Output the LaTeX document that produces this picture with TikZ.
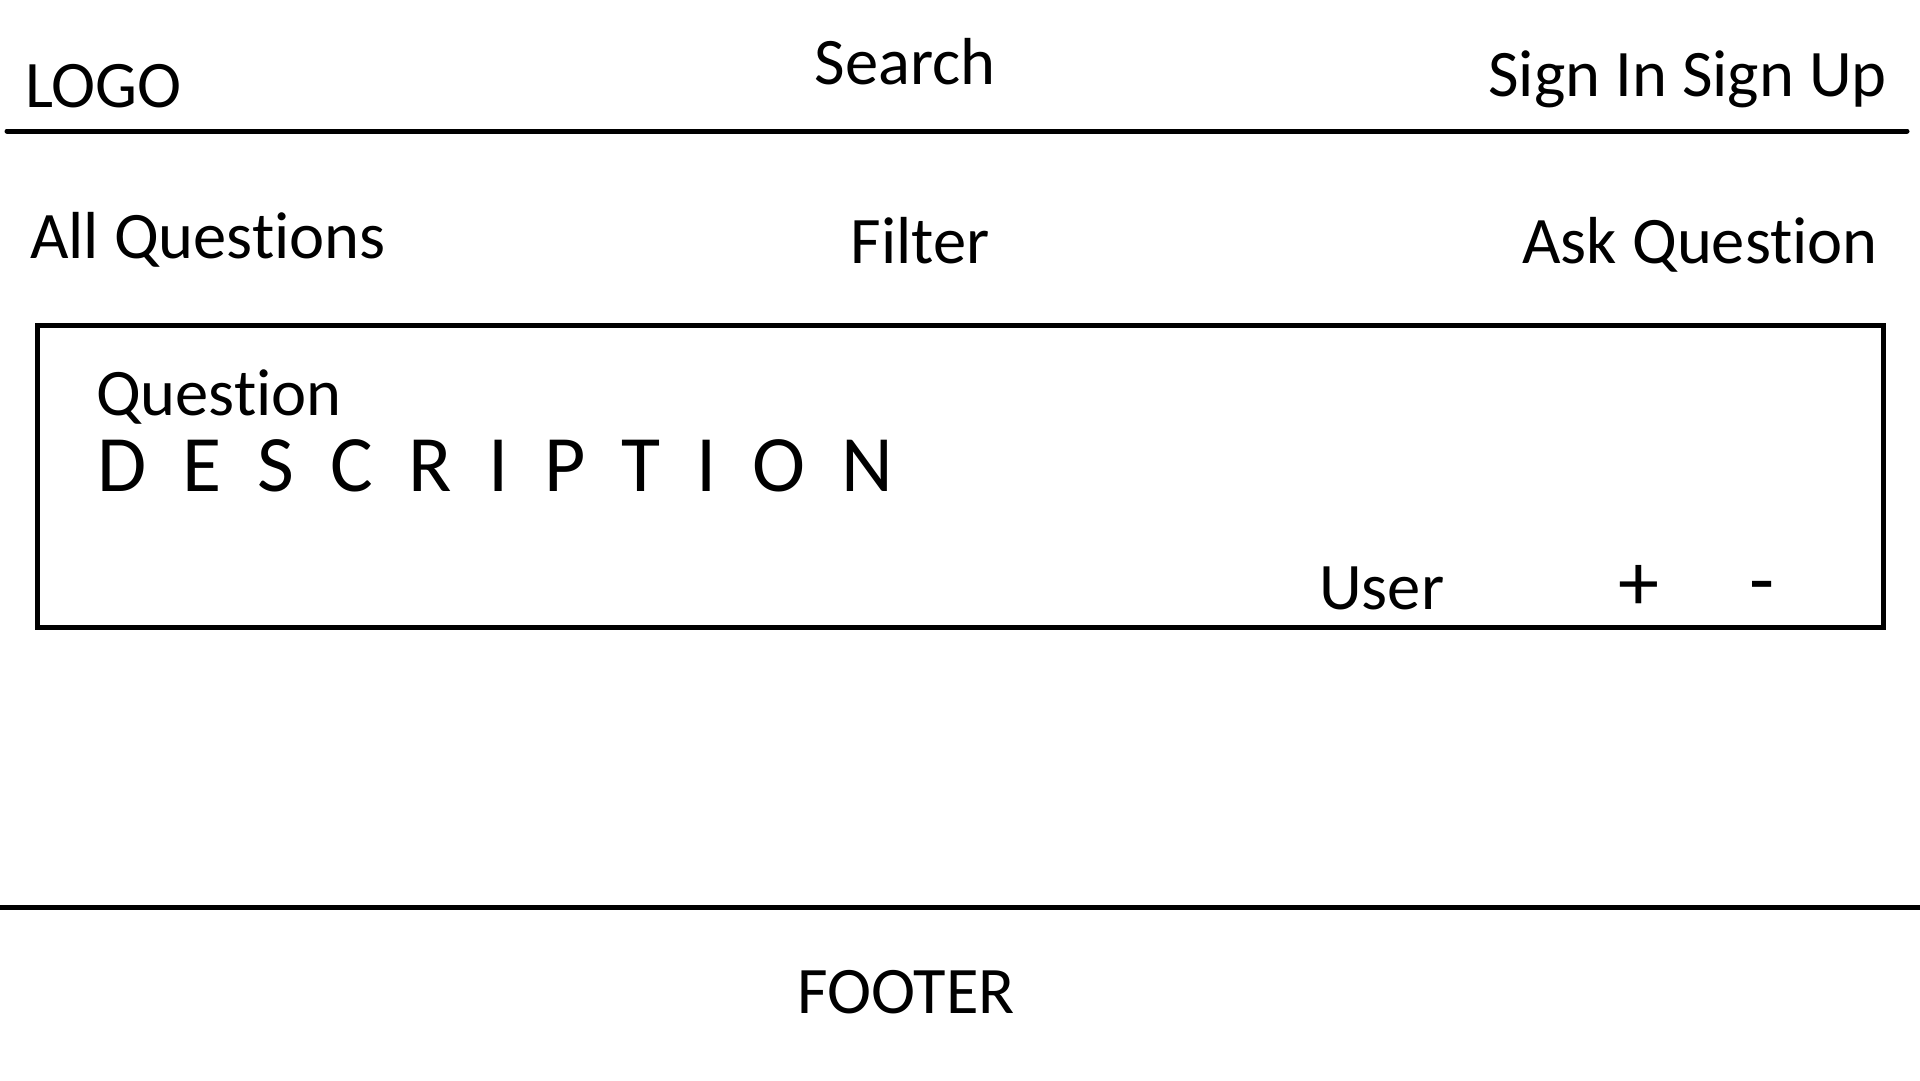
\documentclass[tikz,border=0pt]{standalone}
\usepackage{fontspec}
\setmainfont{Carlito}[Ligatures=NoCommon]
\begin{document}
\begin{tikzpicture}[x=1pt,y=-1pt,
  lbl/.style={inner sep=0pt,font=\fontsize{66.5}{70}\selectfont},
  big/.style={inner sep=0pt,font=\fontsize{80}{86}\selectfont},
  sym/.style={inner sep=0pt,font=\fontsize{82}{86}\selectfont},
  rule/.style={line width=5pt,line cap=round}]
\useasboundingbox (0,0) rectangle (1920,1080);
% header
\node[lbl,anchor=base west] (logo) at (25,107) {LOGO};
\node[lbl,anchor=base] (search) at (905,84) {Search};
\node[lbl,anchor=base east] (sign) at (1887,96) {Sign In Sign Up};
\draw[rule] (7,131) -- (1907,131);
% toolbar
\node[lbl,anchor=base west] (allq) at (30,258) {All Questions};
\node[lbl,anchor=base] (filter) at (920,263) {Filter};
\node[lbl,anchor=base east] (ask) at (1878,263) {Ask Question};
% question card
\draw[line width=5pt] (37,325) rectangle (1883,627);
\node[lbl,anchor=base west] (q) at (96,415) {Question};
\node[big,anchor=base west] (desc) at (97,491) {\spaceskip=36pt\relax D E S C R I P T I O N};
\node[lbl,anchor=base west] (user) at (1319,609) {User};
\node[sym,anchor=base] (plus) at (1639,610) {+};
\node[sym,anchor=base] (minus) at (1762,607) {-};
% footer
\draw[line width=5pt] (0,907) -- (1920,907);
\node[lbl,anchor=base] (footer) at (906,1013) {FOOTER};
\end{tikzpicture}
\end{document}
